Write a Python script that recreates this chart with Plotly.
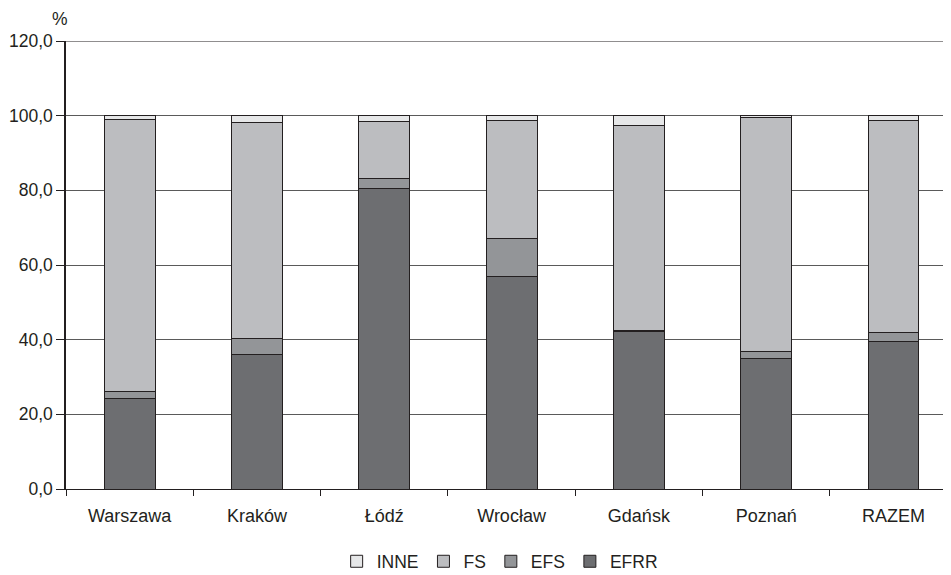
import plotly.graph_objects as go

categories = ["Warszawa", "Kraków", "Łódź", "Wrocław", "Gdańsk", "Poznań", "RAZEM"]
efrr = [24.3, 36.1, 80.5, 57.0, 42.3, 35.0, 39.4]
efs = [1.9, 4.1, 2.8, 10.0, 0.1, 1.9, 2.6]
fs = [72.8, 58.0, 15.2, 31.6, 55.1, 62.6, 56.7]
inne = [1.0, 1.8, 1.5, 1.4, 2.5, 0.5, 1.3]
y_ticks = [0, 20, 40, 60, 80, 100, 120]

series = [("EFRR", efrr, "#6d6e71"), ("EFS", efs, "#939598"),
          ("FS", fs, "#bcbdc0"), ("INNE", inne, "#e6e7e8")]

fig = go.Figure()
for name, vals, col in series:
    fig.add_trace(go.Bar(
        x=categories, y=vals, name=name, width=0.4,
        marker=dict(color=col, line=dict(color="#231f20", width=1)),
    ))

fig.update_layout(
    barmode="stack",
    width=943, height=567,
    margin=dict(l=58, r=0, t=33, b=86, autoexpand=False),
    plot_bgcolor="white", paper_bgcolor="white",
    separators=",.",
    font=dict(family="Liberation Sans, Arial, sans-serif", size=17.5, color="#231f20"),
    showlegend=True,
    legend=dict(orientation="h", x=0.49, xanchor="center", yref="container",
                y=0.024, yanchor="middle",
                traceorder="reversed", font=dict(size=17.5), itemwidth=30),
    xaxis=dict(range=[-0.5, 6.452], showline=True, linecolor="#231f20", linewidth=1,
               ticks="outside", tickson="boundaries", ticklen=6, tickcolor="#231f20",
               showgrid=False, ticklabelstandoff=10, automargin=False,
               tickfont=dict(size=18)),
    yaxis=dict(range=[0, 120], tickvals=y_ticks, tickformat=".1f",
               showline=True, linecolor="#231f20", linewidth=1.5,
               ticks="outside", ticklen=8, tickcolor="#231f20",
               showgrid=True, gridcolor="#5a5a5a", gridwidth=1, zeroline=False,
               automargin=False),
    annotations=[dict(text="%", xref="paper", yref="paper", x=-0.018, y=1.049,
                      xanchor="left", yanchor="middle", showarrow=False,
                      font=dict(size=17.5))],
)
fig.add_shape(type="line", xref="paper", yref="y", x0=0, x1=1, y0=120, y1=120,
              line=dict(color="#231f20", width=1.2))

fig.write_html("out.html")
